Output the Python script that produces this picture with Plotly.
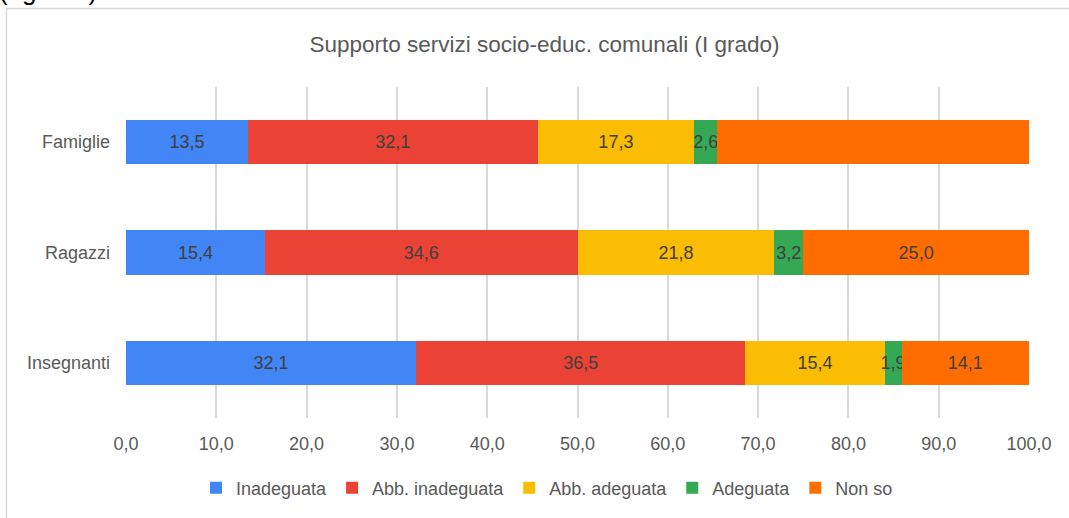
import plotly.graph_objects as go

categories = ["Famiglie", "Ragazzi", "Insegnanti"]
series_names = ["Inadeguata", "Abb. inadeguata", "Abb. adeguata", "Adeguata", "Non so"]
inadeguata = [13.5, 15.4, 32.1]
abb_inadeguata = [32.1, 34.6, 36.5]
abb_adeguata = [17.3, 21.8, 15.4]
adeguata = [2.6, 3.2, 1.9]
non_so = [34.6, 25.0, 14.1]
colors = ["#4285F4", "#EA4335", "#FBBC04", "#34A853", "#FF6D01"]
x_ticks = [0, 10, 20, 30, 40, 50, 60, 70, 80, 90, 100]
title_text = "Supporto servizi socio-educ. comunali (I grado)"

series_values = [inadeguata, abb_inadeguata, abb_adeguata, adeguata, non_so]

W, H = 1069, 518
L, R, T, B = 126, 1029, 87, 418

def px_x(p):
    return (p - L) / (R - L)

def px_y(p):
    return (B - p) / (B - T)

FONT = "Liberation Sans, Arial"

fig = go.Figure()
for name, vals, col in zip(series_names, series_values, colors):
    fig.add_trace(go.Bar(
        y=categories, x=vals, name=name, orientation="h",
        marker=dict(color=col, line=dict(width=0)),
        texttemplate="%{x:.1f}", textposition="inside", textangle=0,
        insidetextanchor="middle", constraintext="none",
        textfont=dict(color="#404040", size=18, family=FONT),
        cliponaxis=False,
    ))

fig.update_layout(
    width=W, height=H,
    barmode="stack", bargap=0.6,
    separators=", ",
    paper_bgcolor="white", plot_bgcolor="white",
    margin=dict(l=L, r=W - R, t=T, b=H - B, pad=0),
    font=dict(family=FONT, color="#595959", size=18),
    uniformtext=dict(minsize=18, mode="show"),
    title=dict(text=title_text, x=544.5 / W, xanchor="center", xref="container",
               y=1 - 44 / H, yanchor="middle", yref="container",
               font=dict(size=22.5, color="#595959", family=FONT)),
    xaxis=dict(range=[0, 100], tickvals=x_ticks, tickformat=".1f",
               showgrid=True, gridcolor="#d9d9d9", gridwidth=1.5,
               zeroline=False, showline=False, ticks="",
               ticklabelstandoff=13, tickfont=dict(size=18, color="#595959")),
    yaxis=dict(autorange="reversed", showgrid=False, showline=False,
               ticks="", ticklabelstandoff=15,
               tickfont=dict(size=18, color="#595959")),
    legend=dict(orientation="h", x=px_x(547), xanchor="center",
                y=px_y(488), yanchor="middle",
                font=dict(size=18, color="#595959"), traceorder="normal",
                itemwidth=30),
    shapes=[dict(type="rect", xref="paper", yref="paper",
                 x0=px_x(6.5), x1=px_x(1090), y0=px_y(540), y1=px_y(8.5),
                 line=dict(color="#d9d9d9", width=1.5), layer="below")],
    annotations=[dict(text="(I grado)", xref="paper", yref="paper",
                      x=px_x(-3), xanchor="left", y=px_y(8), yanchor="bottom",
                      showarrow=False, font=dict(size=26, color="#000000", family=FONT))],
)

fig.write_html("out.html", config={"displayModeBar": False},
               post_script="document.body.style.margin='0';")
